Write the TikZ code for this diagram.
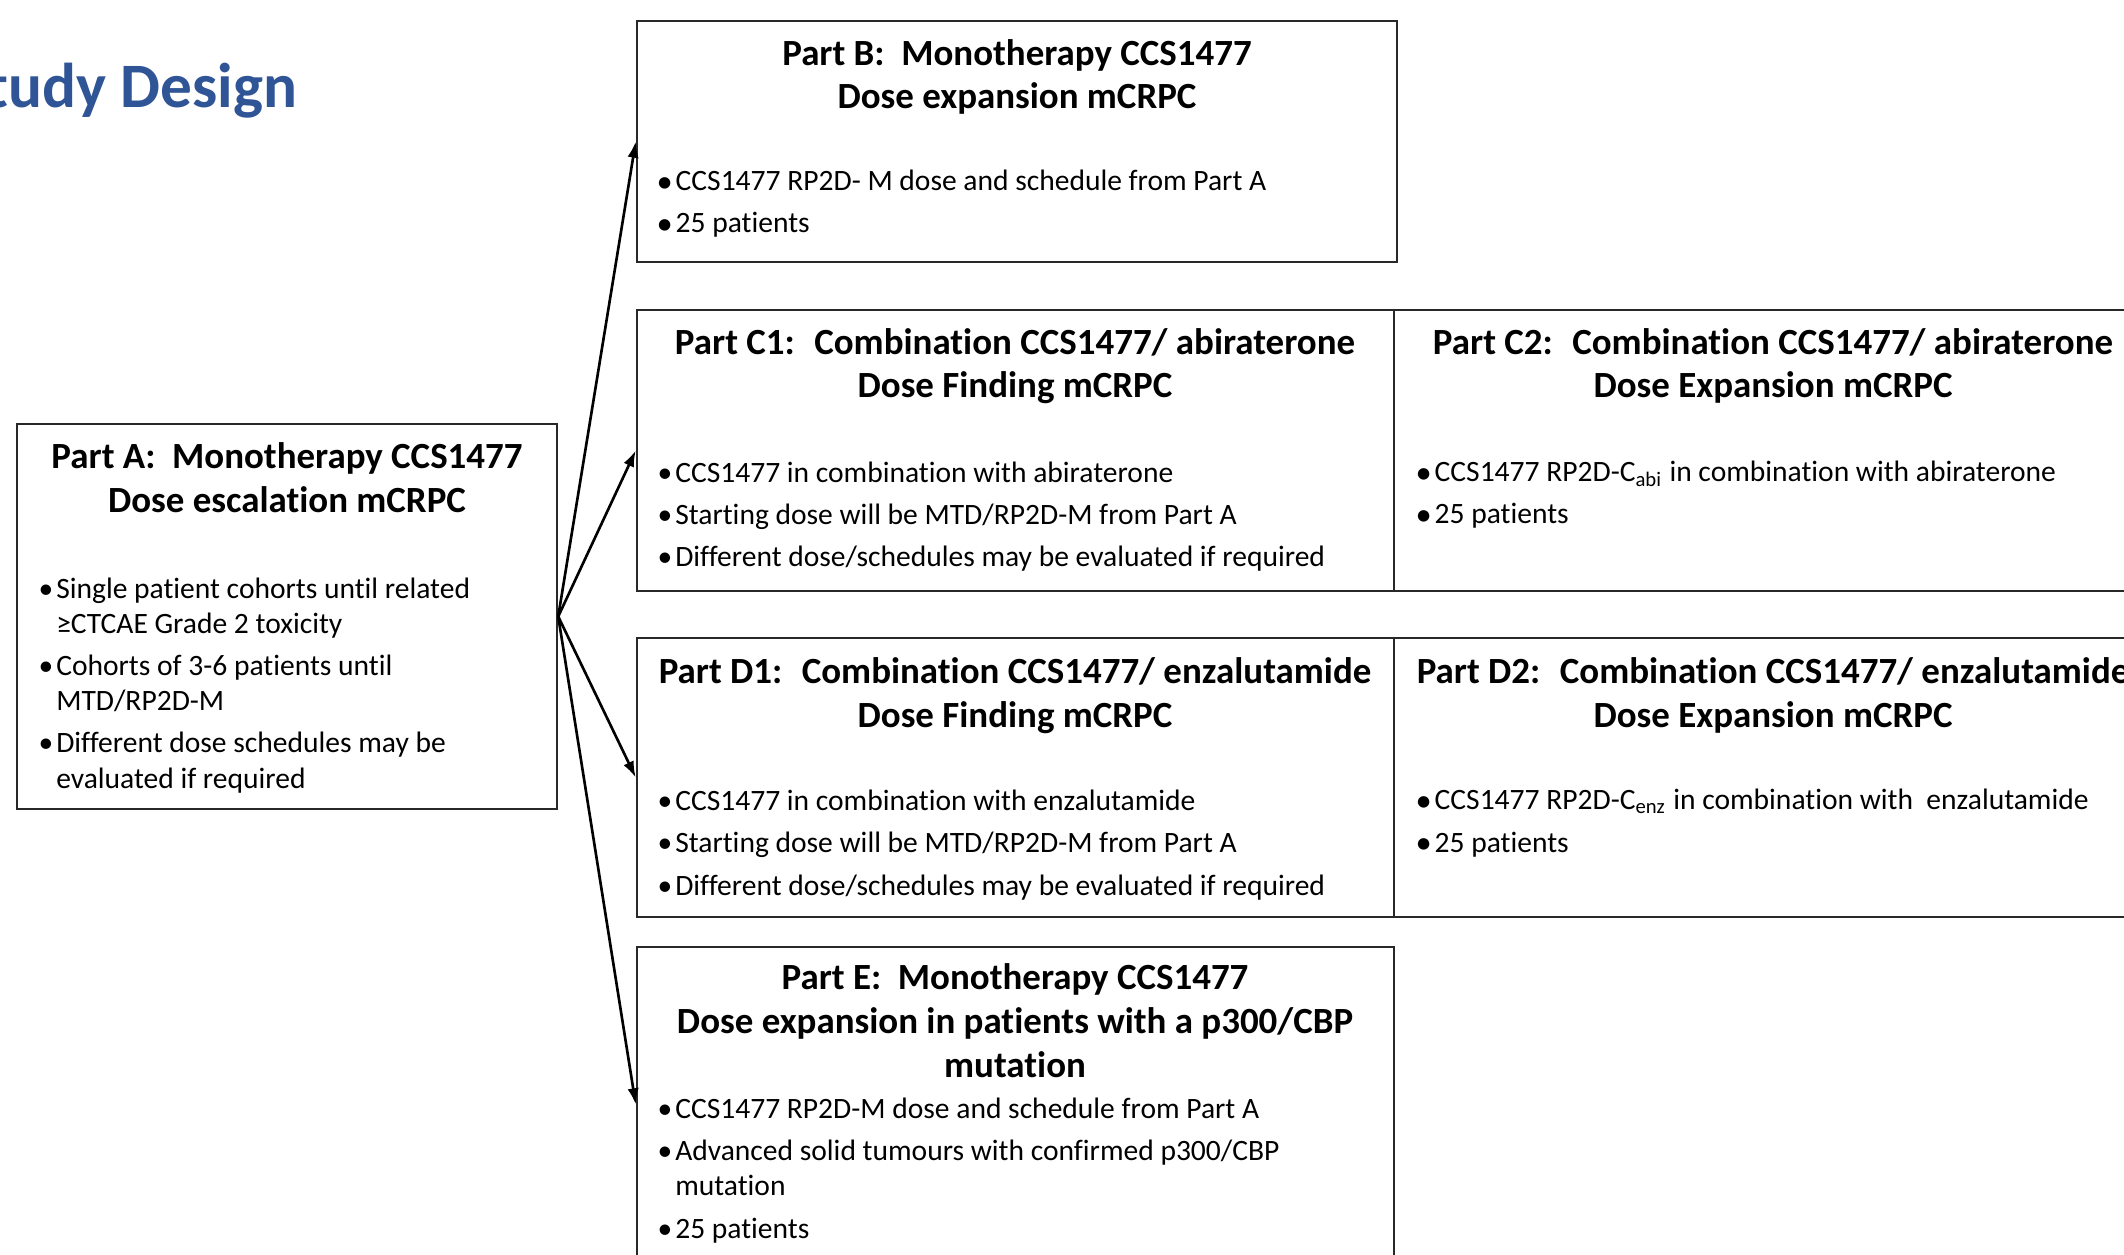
\documentclass[tikz,border=0pt]{standalone}
\usepackage{fontspec}
\setmainfont{Carlito}[Ligatures=NoCommon]
\usepackage{tikz}
\usetikzlibrary{arrows.meta,positioning}
\usepackage{xcolor}
\definecolor{titleblue}{RGB}{47,85,151}
\definecolor{edge}{RGB}{40,40,40}
\newcommand\bul{\makebox[5pt][l]{\textbullet}}
\newcommand\bigbul{\makebox[5.4pt][l]{\raisebox{-0.1ex}{\scalebox{1.1}{\textbullet}}}}
\newcommand\hang{\hspace*{5pt}}
\tikzset{
  box/.style={draw=edge,line width=0.6pt,inner sep=0pt},
  head/.style={font={\fontsize{10.5}{12.5}\selectfont\bfseries},align=center,anchor=base,inner sep=0pt},
  body/.style={font={\fontsize{8.4}{10}\selectfont},align=left,anchor=base west,inner sep=0pt},
  ttl/.style={font={\fontsize{18}{21}\selectfont\bfseries},text=titleblue,anchor=base east,inner sep=0pt},
  flow/.style={-{Latex[length=4.6pt,width=3.2pt]},line width=0.75pt,draw=black}
}

\begin{document}
\begin{tikzpicture}[x=0.01cm,y=-0.01cm]
\useasboundingbox (0,0) rectangle (2124,1255);
\clip (0,0) rectangle (2124,1255);
\node[ttl] (title) at (298,108) {Study Design};
\node[box,minimum width=5.40cm,minimum height=3.85cm] (partA) at (287,616.5) {};
\node[box,minimum width=7.60cm,minimum height=2.41cm] (partB) at (1017,141.5) {};
\node[box,minimum width=7.57cm,minimum height=2.81cm] (partC1) at (1015.5,450.5) {};
\node[box,minimum width=7.58cm,minimum height=2.81cm] (partC2) at (1773,450.5) {};
\node[box,minimum width=7.57cm,minimum height=2.79cm] (partD1) at (1015.5,777.5) {};
\node[box,minimum width=7.58cm,minimum height=2.79cm] (partD2) at (1773,777.5) {};
\node[box,minimum width=7.57cm,minimum height=3.15cm] (partE) at (1015.5,1104.5) {};

% multi-line nodes sit on the baseline of their last line
\node[head] (headA) at (287,512) {Part A:~ Monotherapy CCS1477\\Dose escalation mCRPC};
\node[body] (listA) at (38,788) {\bul Single patient cohorts until related\\\hang ≥CTCAE Grade 2 toxicity\\[2pt]
  \bul Cohorts of 3-6 patients until\\\hang MTD/RP2D-M\\[2pt]
  \bul Different dose schedules may be\\\hang evaluated if required};

\node[head] (headB) at (1017,109) {Part B:~ Monotherapy CCS1477\\Dose expansion mCRPC};
\node[body] (listB) at (656,233) {\bigbul CCS1477 RP2D- M dose and schedule from Part A\\[2pt]
  \bigbul 25 patients};

\node[head] (headC1) at (1015,398) {Part C1:~ Combination CCS1477/ abiraterone\\Dose Finding mCRPC};
\node[body] (listC1) at (657,567) {\bul CCS1477 in combination with abiraterone\\[2pt]
  \bul Starting dose will be MTD/RP2D-M from Part A\\[2pt]
  \bul Different dose/schedules may be evaluated if required};

\node[head] (headC2) at (1773,398) {Part C2:~ Combination CCS1477/ abiraterone\\Dose Expansion mCRPC};
\node[body] (listC2) at (1415,524) {\bigbul CCS1477 RP2D-C\textsubscript{abi} in combination with abiraterone\\[2pt]
  \bigbul 25 patients};

\node[head] (headD1) at (1015,727) {Part D1:~ Combination CCS1477/ enzalutamide\\Dose Finding mCRPC};
\node[body] (listD1) at (657,895) {\bul CCS1477 in combination with enzalutamide\\[2pt]
  \bul Starting dose will be MTD/RP2D-M from Part A\\[2pt]
  \bul Different dose/schedules may be evaluated if required};

\node[head] (headD2) at (1773,727) {Part D2:~ Combination CCS1477/ enzalutamide\\Dose Expansion mCRPC};
\node[body] (listD2) at (1415,852) {\bigbul CCS1477 RP2D-C\textsubscript{enz} in combination with~ enzalutamide\\[2pt]
  \bigbul 25 patients};

\node[head] (headE) at (1015,1077) {Part E:~ Monotherapy CCS1477\\Dose expansion in patients with a p300/CBP\\mutation};
\node[body] (listE) at (657,1238) {\bul CCS1477 RP2D-M dose and schedule from Part A\\[2pt]
  \bul Advanced solid tumours with confirmed p300/CBP\\\hang mutation\\[2pt]
  \bul 25 patients};

\draw[flow] (partA.east) -- (partB.west);
\draw[flow] (partA.east) -- (partC1.west);
\draw[flow] (partA.east) -- (partD1.west);
\draw[flow] (partA.east) -- (partE.west);
\end{tikzpicture}
\end{document}
